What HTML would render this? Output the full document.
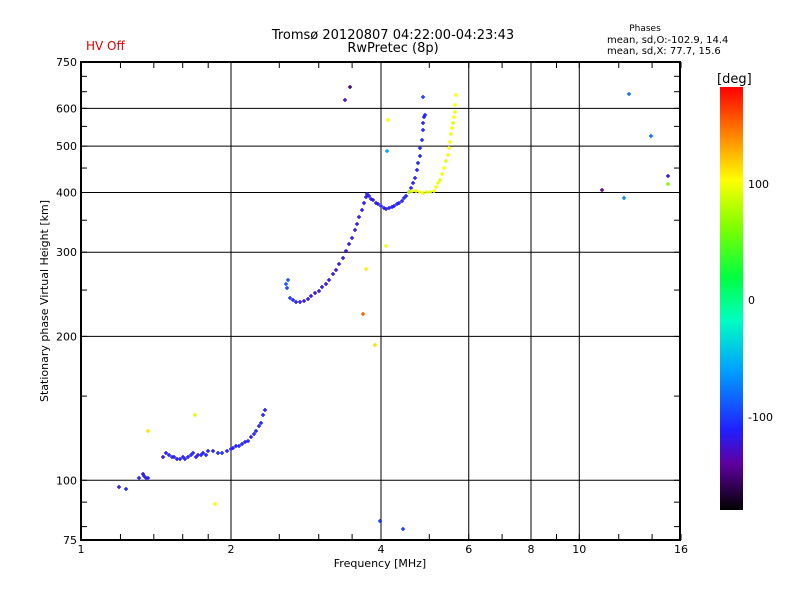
<!DOCTYPE html>
<html><head><meta charset="utf-8"><style>
body{margin:0;background:#fff}
svg{display:block;font-family:"DejaVu Sans","Liberation Sans",sans-serif}
</style></head><body>
<svg id="c" width="800" height="600" viewBox="0 0 800 600">
<rect width="800" height="600" fill="#fff"/>
<text x="86" y="50" font-size="12" fill="#e00000">HV Off</text>
<text x="393" y="39" font-size="13" text-anchor="middle">Tromsø 20120807 04:22:00-04:23:43</text>
<text x="393" y="52" font-size="13" text-anchor="middle">RwPretec (8p)</text>
<text x="645" y="31" font-size="9" text-anchor="middle">Phases</text>
<text x="607" y="43" font-size="10">mean, sd,O:-102.9, 14.4</text>
<text x="607" y="54" font-size="10">mean, sd,X:  77.7, 15.6</text>
<text x="380" y="567" font-size="11" text-anchor="middle">Frequency [MHz]</text>
<text x="48" y="301" font-size="11" text-anchor="middle" transform="rotate(-90 48 301)">Stationary phase Virtual Height [km]</text>
<g id="grid"></g><g id="pts"></g>
<rect x="81" y="62" width="599" height="478" fill="none" stroke="#000" stroke-width="2"/>
<defs><linearGradient id="cg" x1="0" y1="1" x2="0" y2="0">
<stop offset="0" stop-color="#000"/><stop offset="0.11" stop-color="#6000a0"/><stop offset="0.19" stop-color="#2020ff"/><stop offset="0.33" stop-color="#00a0ff"/><stop offset="0.45" stop-color="#00ffc0"/><stop offset="0.55" stop-color="#00ff40"/><stop offset="0.67" stop-color="#80ff00"/><stop offset="0.78" stop-color="#ffff00"/><stop offset="0.89" stop-color="#ff8000"/><stop offset="1" stop-color="#ff0000"/>
</linearGradient></defs>
<rect x="720" y="87" width="23" height="423" fill="url(#cg)"/>
<text x="717" y="83" font-size="13">[deg]</text>
<text x="748" y="188" font-size="11">100</text>
<text x="748" y="304" font-size="11">0</text>
<text x="748" y="421" font-size="11">-100</text>
</svg>
<script>
const xTicks=[1,2,4,6,8,10,16];
const xMinor=[1,1.2,1.4,1.6,1.8,2,2.5,3,3.5,4,5,6,7,8,9,10,12,14,16];
const yTicks=[75,100,200,300,400,500,600,750];
const yMinor=[75,80,90,100,150,200,250,300,350,400,450,500,550,600,650,700,750];
const freq=[1.19,1.23,1.31,1.33,1.34,1.35,1.36,
1.46,1.48,1.50,1.52,1.54,1.56,1.58,1.60,1.62,1.64,1.66,1.68,1.70,1.72,1.74,1.76,1.78,1.80,1.84,1.88,1.92,1.96,2.00,2.02,2.05,2.08,2.10,2.13,2.16,2.19,2.22,2.25,2.28,2.30,2.32,2.34,
2.58,2.59,2.60,2.63,2.66,2.70,2.75,2.80,2.85,2.90,2.95,3.00,3.05,3.10,3.15,3.20,3.25,3.30,3.35,3.40,3.45,3.50,3.55,3.58,3.62,3.66,3.70,3.73,3.75,3.78,3.82,3.86,3.90,3.95,4.00,4.05,4.10,4.15,4.20,4.25,4.30,4.35,4.40,4.45,4.50,4.55,4.60,4.64,4.68,4.72,4.75,4.78,4.80,4.83,4.85,4.86,4.88,4.90,
4.55,4.62,4.70,4.78,4.86,4.95,5.02,5.10,5.15,5.20,5.25,5.30,5.35,5.40,5.45,5.48,5.50,5.52,5.55,5.57,5.60,5.62,5.64,5.66,
3.47,3.39,3.68,3.89,3.73,4.09,4.14,4.12,4.86,1.36,1.69,1.86,4.42,3.98,11.1,12.3,12.6,13.9,15.1,15.1];
const height=[96.9,96,101,103,102,101,101,
112,114,113,112,112,111,111,112,111,112,113,114,112,113,113,114,113,115,115,114,114,115,116,117,118,118,119,120,121,123,125,127,130,132,137,140,
257,252,262,241,238,236,236,237,240,243,246,249,254,258,263,270,276,283,292,302,312,322,334,343,355,368,380,392,398,394,388,385,381,378,375,372,370,371,373,375,378,381,384,389,393,400,408,418,428,445,460,478,495,515,540,560,575,581,
401,402,403,400,399,400,401,403,410,418,425,438,450,465,480,495,510,530,545,560,575,590,610,640,
665,625,223,192,277,309,568,488,635,127,137,89,79,82,405,389,644,525,433,416];
const phase=[-120,-110,-115,-125,-110,-120,-115,
-120,-115,-110,-105,-115,-120,-110,-115,-110,-115,-110,-110,-115,-120,-110,-115,-110,-110,-115,-110,-105,-110,-115,-110,-115,-110,-110,-115,-110,-115,-110,-110,-115,-110,-110,-110,
-90,-95,-90,-100,-110,-115,-115,-120,-120,-120,-125,-120,-120,-125,-120,-120,-125,-120,-120,-125,-120,-115,-120,-115,-120,-115,-115,-115,-115,-115,-115,-120,-115,-115,-110,-115,-115,-115,-110,-115,-110,-110,-115,-110,-110,-110,-110,-110,-110,-110,-110,-110,-110,-105,-110,-110,-110,-110,
80,95,90,100,95,90,90,100,100,95,90,95,100,90,95,100,100,95,100,90,100,95,100,100,
-150,-130,150,110,105,95,100,-60,-100,110,90,100,-100,-100,-140,-70,-80,-80,-120,60];
const X=f=>81+150*Math.log2(f);
const Y=h=>540-478*Math.log10(h/75);
const NS='http://www.w3.org/2000/svg';
function mk(t,a,p){const e=document.createElementNS(NS,t);for(const k in a)e.setAttribute(k,a[k]);p.appendChild(e);return e;}
const g=document.getElementById('grid');
xTicks.forEach(f=>{const x=X(f);
 if(f>1&&f<16){const l=mk('line',{x1:x,x2:x,y1:62,y2:540,stroke:'#000','stroke-width':1},g);
 
 }
 const t=mk('text',{x:x,y:553,'font-size':11,'text-anchor':'middle'},g);t.textContent=f;
 
 });
xMinor.forEach(f=>{const x=X(f);
 const a=mk('line',{x1:x,x2:x,y1:62,y2:68,stroke:'#000'},g);
 
 
 const b=mk('line',{x1:x,x2:x,y1:534,y2:540,stroke:'#000'},g);
 
 });
yTicks.forEach(h=>{const y=Y(h);
 if(h>75&&h<750){const l=mk('line',{x1:81,x2:680,y1:y,y2:y,stroke:'#000','stroke-width':1},g);
 
 }
 const t=mk('text',{x:77,y:y+4,'font-size':11,'text-anchor':'end'},g);t.textContent=h;
 
 });
yMinor.forEach(h=>{const y=Y(h);
 const a=mk('line',{x1:81,x2:87,y1:y,y2:y,stroke:'#000'},g);
 
 
 const b=mk('line',{x1:674,x2:680,y1:y,y2:y,stroke:'#000'},g);
 
 });
const stops=[[-180,[0,0,0]],[-140,[96,0,160]],[-110,[32,32,255]],[-60,[0,160,255]],[-20,[0,255,192]],[20,[0,255,64]],[60,[128,255,0]],[100,[255,255,0]],[140,[255,128,0]],[180,[255,0,0]]];
function col(v){for(let i=1;i<stops.length;i++){if(v<=stops[i][0]){const a=stops[i-1],b=stops[i],t=(v-a[0])/(b[0]-a[0]);
 return 'rgb('+a[1].map((c,k)=>Math.round(c+t*(b[1][k]-c))).join(',')+')';}}return 'rgb(255,0,0)';}
const P=document.getElementById('pts');
freq.forEach((f,i)=>{const x=Math.round(X(f)),y=Math.round(Y(height[i]));
 const p=mk('path',{d:`M${x-2} ${y}h4M${x} ${y-2}v4`,stroke:col(phase[i]),'stroke-width':1.5},P);
 
 });
</script>
</body></html>
